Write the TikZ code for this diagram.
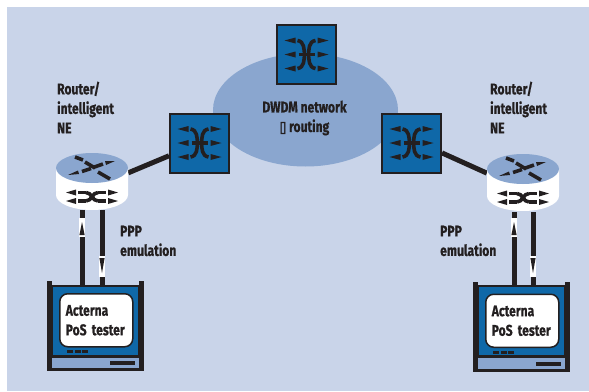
\documentclass[tikz,border=0pt]{standalone}
\usepackage{fontspec}
\setmainfont[FakeStretch=0.78,FakeBold=0.6]{Fira Sans}
\newfontfamily\boxfont[FakeStretch=0.75,FakeBold=2.5]{DejaVu Sans}
\usetikzlibrary{shapes.geometric}
\definecolor{panelblue}{HTML}{C9D4E9}
\definecolor{midblue}{HTML}{8AA6CF}
\definecolor{boxblue}{HTML}{0F68A8}
\definecolor{inkdark}{HTML}{231F20}
\newcommand{\swicon}[2]{
  \begin{scope}[shift={(#1,#2)}]
    \foreach \r in {-14,0,14} {
      \fill[inkdark] (-22,\r) -- (-11,\r-3) -- (-11,\r+3) -- cycle;
      \fill[inkdark] (22,\r) -- (11,\r-3) -- (11,\r+3) -- cycle;
    }
    \draw[icon] (-8,0) -- (8,0);
    \draw[icon] (-9,-14) .. controls (-2,-13) and (-2.5,-5) .. (-2,0) .. controls (-2.5,5) and (-2,13) .. (-9,14);
    \draw[icon] (9,-14) .. controls (2,-13) and (2.5,-5) .. (2,0) .. controls (2.5,5) and (2,13) .. (9,14);
  \end{scope}
}
\newcommand{\rtricon}[2]{
  \begin{scope}[shift={(#1,#2)}]
    \fill[white] (-36,0) -- (-36,27) arc [start angle=180,end angle=360,x radius=36,y radius=-15] -- (36,0) -- cycle;
    \fill[midblue] (0,0) ellipse [x radius=36,y radius=15];
    % top of the router
    \fill[inkdark] (-24,7) -- (-14,2.5) -- (-13,6) -- cycle;
    \fill[inkdark] (23,-7) -- (13,-7) -- (14,-3) -- cycle;
    \draw[icon] (-10,3.5) -- (-1,0.5);
    \draw[icon] (1,-0.5) -- (11,-4);
    \draw[icon] (-17,-11) -- (-9,-8);
    \draw[icon] (-7,-6) -- (3,0);
    \draw[icon] (6,4) -- (18,11);
    % side of the router
    \foreach \r in {24.5,33} {
      \fill[inkdark] (-26,\r) -- (-16,\r-3) -- (-16,\r+3) -- cycle;
      \fill[inkdark] (26,\r) -- (16,\r-3) -- (16,\r+3) -- cycle;
      \draw[icon] (-14,\r) -- (-6,\r);
      \draw[icon] (6,\r) -- (14,\r);
    }
    \draw[icon] (-6,24.5) .. controls (0,24.5) and (0,33) .. (6,33);
    \draw[icon] (-6,33) .. controls (0,33) and (0,24.5) .. (6,24.5);
  \end{scope}
}
\newcommand{\tstbits}[2]{
  \begin{scope}[shift={(#1,#2)}]
    \fill[inkdark] (47,281) rectangle (52,371);
    \fill[inkdark] (139,281) rectangle (144,371);
    \fill[inkdark] (52,356) rectangle (139,371);
    \fill[midblue] (52,357.5) rectangle (139,368);
    \foreach \k in {67,74.5,82} {
      \fill[inkdark] (\k,350) rectangle (\k+6,353);
    }
    \fill[inkdark] (110,361) rectangle (135,365);
  \end{scope}
}
\newcommand{\markup}[2]{
  \fill[white] (#1-2.6,#2-17) rectangle (#1+2.6,#2+2);
  \fill[inkdark] (#1,#2-13) -- (#1+2.6,#2) -- (#1-2.6,#2) -- cycle;
}
\newcommand{\markdown}[2]{
  \fill[white] (#1-2.6,#2-2) rectangle (#1+2.6,#2+19);
  \fill[inkdark] (#1,#2+15) -- (#1+2.6,#2) -- (#1-2.6,#2) -- cycle;
}
\begin{document}
\begin{tikzpicture}[x=1pt,y=-1pt]
  \tikzstyle{switch}=[draw=inkdark,line width=2pt,fill=boxblue,minimum size=59pt,inner sep=0pt]
  \tikzstyle{router}=[minimum width=72pt,minimum height=44pt,inner sep=0pt]
  \tikzstyle{tester}=[draw=inkdark,line width=2pt,fill=boxblue,minimum width=87pt,minimum height=70pt,inner sep=0pt]
  \tikzstyle{screen}=[draw=inkdark,line width=1.5pt,fill=white,rounded corners=8pt,text width=61pt,minimum height=53pt,inner xsep=3pt,inner ysep=0pt]
  \tikzstyle{edge}=[draw=inkdark,line width=5pt]
  \tikzstyle{icon}=[draw=inkdark,line width=3.6pt]
  \tikzstyle{label}=[text=inkdark,inner sep=0pt,align=left,font=\fontsize{15.5}{19.5}\selectfont\bfseries]
  \useasboundingbox (0,0) rectangle (589,391);
  \fill[panelblue] (7,7) rectangle (589,391);
  \node [ellipse,fill=midblue,minimum width=185pt,minimum height=113pt,inner sep=0pt] (net) at (305.5,110) {};
  \node [switch] (sw1) at (306.5,54.5) {};
  \node [switch] (sw2) at (199.5,143) {};
  \node [switch] (sw3) at (411.5,143) {};
  \swicon{306.5}{54.5}
  \swicon{199.5}{143}
  \swicon{411.5}{143}
  \node [router] (r1) at (92,188) {};
  \node [router] (r2) at (523,190) {};
  \draw[edge] (sw2) -- (r1);
  \draw[edge] (sw3.-18) -- (r2.155);
  \rtricon{92}{168}
  \rtricon{523}{169}
  \node [tester] (t1) at (95.5,320.5) {};
  \node [tester] (t2) at (521.5,321) {};
  \tstbits{0}{0}
  \tstbits{426}{0.5}
  \node [screen,anchor=north west,label,inner xsep=6pt] (s1) at (59,293) {Acterna\\PoS tester};
  \node [screen,anchor=north west,label,inner xsep=6pt] (s2) at (485,293.5) {Acterna\\PoS tester};
  \draw[edge] ([xshift=-10pt]r1.south) -- ([xshift=-13.5pt]t1.north);
  \draw[edge] ([xshift=10pt]r1.south) -- ([xshift=6.5pt]t1.north);
  \draw[edge] ([xshift=-9pt]r2.south) -- ([xshift=-7.5pt]t2.north);
  \draw[edge] ([xshift=10pt]r2.south) -- ([xshift=11.5pt]t2.north);
  \markup{82}{235}
  \markdown{102}{258}
  \markup{514}{235}
  \markdown{533}{258}
  \node [label,anchor=north west] (l1) at (57,81.5) {Router/\\intelligent\\NE};
  \node [label,anchor=north west] (l2) at (490,81.5) {Router/\\intelligent\\NE};
  \node [label,anchor=north west] (p1) at (120,225.5) {PPP\\emulation};
  \node [label,anchor=north west] (p2) at (440,225.5) {PPP\\emulation};
  \node [label,align=center,anchor=north] (d) at (304.5,100.5) {DWDM network\\{\boxfont ▯} routing};
\end{tikzpicture}
\end{document}
